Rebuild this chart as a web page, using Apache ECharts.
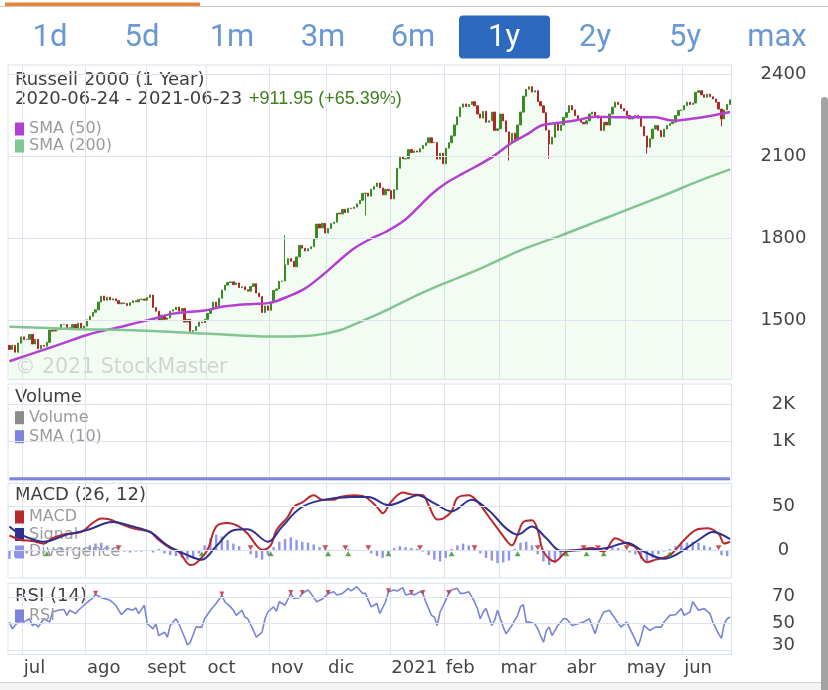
<!DOCTYPE html>
<html><head><meta charset="utf-8">
<script src="https://cdn.jsdelivr.net/npm/echarts@6/dist/echarts.min.js"></script>
<style>html,body{margin:0;padding:0;background:#fff;overflow:hidden}#c{width:828px;height:690px}</style>
</head><body><div id="c"></div>
<script>
// ---------- data ----------
const closes = [
1395,1410,1385,1418,1441,
1431,1432,1450,1415,1432,1398,1410,1407,1421,1466,1462,1467,1467,1486,1486,1472,1475,1486,1471,1491,1470,1480,
1503,1516,1531,1540,1568,1590,1575,1586,1576,1580,1573,1562,1565,1563,1556,1566,1573,1569,1577,1579,1575,
1585,1594,1548,1535,1500,1520,1505,1510,1535,1540,1550,1535,1545,1495,1505,1461,1464,1480,1495,1493,1505,
1527,1540,1568,1550,1582,1612,1630,1640,1642,1632,1638,1621,1624,1613,1608,1625,1635,1601,1588,1530,1554,1538,
1567,1611,1616,1644,1645,1705,1727,1717,1697,1733,1775,1765,1755,1763,1770,1799,1853,1839,1856,1820,
1837,1855,1860,1893,1890,1907,1895,1911,1910,1915,1927,1940,1965,1966,1955,1980,1990,2003,1985,1960,1980,1975,
1945,1979,2057,2097,2091,2092,2125,2114,2120,2116,2128,2140,2150,2168,2150,2151,2090,2112,2073,
2130,2150,2175,2215,2245,2280,2292,2282,2290,2300,2285,2255,2240,2265,2225,2230,2262,2195,2201,
2255,2230,2190,2152,2185,2160,2215,2262,2320,2345,2355,2335,2340,2300,2285,2260,2196,2145,2170,2221,2195,2215,2243,
2260,2286,2270,2249,2235,2225,2219,2230,2255,2262,2249,2240,2195,2225,2215,2255,2280,2298,2290,2275,2266,
2250,2237,2245,2250,2240,2210,2175,2134,2165,2200,2213,2195,2172,2200,2213,2220,2225,2250,2268,2270,
2286,2298,2290,2295,2334,2340,2325,2316,2328,2318,2310,2298,2273,2237,2270,2290,2307
];
const firstOpen = 1410;
// [tradingDayIndex, low, high] for candles with visible wicks
const wicks = [[96,null,1812],[124,1885,null],[174,2085,null],[188,2092,null],[222,2110,null],[248,2210,null]];

const sma50 = [[0,1352],[10,1387],[16,1408],[22,1430],[27,1448],[33,1464],[39,1478],[45,1494],[51,1509],[56,1524],[62,1532],[68,1537],[74,1551],[80,1558],[85,1561],[91,1566],[97,1588],[103,1618],[109,1666],[115,1721],[120,1764],[126,1800],[131,1824],[137,1862],[142,1910],[147,1962],[152,2002],[158,2038],[164,2072],[169,2104],[175,2150],[181,2185],[185,2212],[190,2221],[197,2231],[204,2245],[214,2243],[225,2243],[231,2231],[237,2237],[244,2248],[251,2262]];
const sma200 = [[0,1478],[22,1470],[45,1464],[68,1453],[91,1442],[103,1444],[109,1451],[115,1465],[120,1486],[126,1513],[131,1537],[143,1598],[153,1643],[164,1690],[178,1757],[192,1811],[206,1868],[228,1958],[240,2010],[251,2053]];

const volumeSma10 = [[0,0],[251,0]];

const macd = [[0,17],[4,12],[8,11],[12,8],[15,14],[20,19],[25,21],[29,31],[32,36],[35,35],[38,31],[43,25],[49,21],[52,12],[56,3],[59,-1],[63,-16],[65,-14],[69,1],[72,27],[76,31],[80,27],[83,19],[86,6],[88,1],[91,6],[93,23],[97,38],[99,49],[102,54],[106,62],[109,57],[113,57],[115,60],[120,62],[124,60],[128,49],[130,42],[133,55],[137,65],[140,63],[144,62],[146,51],[149,35],[151,36],[154,44],[156,59],[160,62],[163,55],[167,38],[170,25],[173,12],[175,6],[177,18],[179,32],[182,34],[184,23],[186,-1],[190,-12],[194,-1],[198,1],[203,3],[207,-1],[211,14],[215,8],[218,4],[222,-13],[225,-10],[230,-5],[235,12],[239,23],[243,25],[247,19],[249,8],[251,10]];
const signal = [[0,27],[4,18],[12,10],[20,18],[27,23],[36,32],[43,27],[49,21],[55,6],[62,-5],[67,-10],[72,5],[78,23],[83,24],[90,10],[95,27],[101,47],[108,56],[119,60],[125,60],[132,51],[140,60],[142,62],[148,53],[154,44],[161,57],[167,45],[173,25],[177,18],[182,27],[187,14],[192,0],[201,1],[208,3],[215,9],[221,-1],[228,-9],[233,-3],[240,12],[245,21],[251,13]];
// one value every 2 trading days, starting at index 0
const divergence = [
-9,-7,-5,-3,-1,-1,-2,1,2,3,
2,2,1,3,6,8,9,6,3,1,
-1,-2,-1,-1,0,-2,2,-3,-5,-6,
-8,-10,-7,-3,6,14,18,16,12,8,
5,1,-4,-8,-10,-5,4,10,13,15,
12,10,9,7,4,2,1,0,1,2,
1,1,0,-3,-6,-8,-3,3,5,4,
3,2,-1,-5,-10,-12,-8,2,6,8,
6,2,-3,-8,-11,-14,-13,-11,2,9,
10,6,-4,-12,-16,-14,-8,-2,0,0,
1,1,0,-1,2,4,3,1,-2,-4,
-9,-12,-8,-4,-1,2,5,7,9,10,
9,6,4,1,-5,-6
];
const macdCrossDown = [38,84,110,117,125,143,162,184,200,205,215,247];
const macdCrossUp = [13,67,91,111,118,132,154,177,194,201,207,230];

const rsi = [[0,51.2],[1,46.2],[3,51.2],[4,53.7],[5,51.2],[7,53.7],[8,48.7],[9,50],[10,47.5],[12,53.7],[14,51.2],[15,58.7],[17,60],[19,60.5],[20,56.2],[21,60],[23,57.5],[24,60],[26,63.7],[28,67.5],[29,68.8],[30,71.8],[32,69.3],[33,68.8],[35,67.5],[37,63.7],[39,56.7],[41,61.2],[43,60],[44,61.7],[45,57.5],[47,63.7],[48,50],[50,46.2],[51,50],[52,41.2],[54,43.7],[55,40],[56,48.7],[58,53.7],[59,50],[61,40],[62,34.2],[63,36.2],[65,47.5],[67,47.5],[68,53.7],[70,60],[72,65],[74,71.3],[75,66.3],[77,62.5],[78,60],[79,56.2],[81,60],[82,55],[83,53.7],[85,45],[86,40],[88,43.7],[89,53.7],[90,58.7],[92,62.5],[93,59.2],[94,66.3],[96,63.7],[98,72.5],[99,68.8],[101,69.3],[102,72.5],[104,75],[105,72.5],[107,66.3],[109,68.3],[111,72.5],[113,73.8],[114,71.3],[116,72.5],[118,76.3],[119,74.3],[121,77.5],[123,72.5],[124,72.5],[126,62.5],[128,65],[129,57.5],[131,66.3],[132,73.8],[134,75],[135,74.3],[137,76.8],[138,71.3],[140,72.5],[141,71.3],[143,73.8],[144,72.5],[145,66.3],[147,56.2],[148,55],[149,48.7],[150,58.7],[152,67.5],[153,72.5],[154,75],[156,76.3],[157,72.5],[158,72.5],[160,73.8],[162,66.3],[163,61.2],[164,53.7],[165,58.7],[166,61.2],[168,48.7],[169,52.5],[170,60],[172,47.5],[173,42.5],[175,48.7],[177,56.2],[178,62.5],[179,64.2],[180,51.2],[181,51.2],[183,50],[184,46.2],[186,36.2],[187,45],[188,47.5],[189,41.2],[191,48.7],[193,53.7],[194,53.7],[196,48.7],[198,50],[200,51.2],[202,53.7],[204,42.5],[205,50],[207,58.7],[209,60],[211,53.7],[213,47.5],[215,51.2],[217,42.5],[219,33.2],[220,40],[221,48.7],[223,45],[225,47.5],[227,47.5],[228,51.2],[230,56.2],[232,56.7],[234,61.2],[235,56.2],[237,58.7],[238,66.3],[240,60],[242,61.2],[244,57.5],[245,51.2],[247,42.5],[248,39.2],[249,50],[250,53.7],[251,55]];
const rsiPeaks = [[30,71.8],[74,71.3],[98,72.5],[102,72.5],[111,72.5],[132,73.8],[140,72.5],[144,72.5],[153,72.5]];

const priceTicks = [1500,1800,2100,2400];
const volumeTicks = [1000,2000];
const macdTicks = [0,50];
const rsiTicks = [30,50,70];
const monthNames = ['ene','feb','mar','abr','may','jun','jul','ago','sept','oct','nov','dic'];
const holidays = ['2020-07-03','2020-09-07','2020-11-26','2020-12-25','2021-01-01','2021-01-18','2021-02-15','2021-04-02','2021-05-31'];
const tabs = ['1d','5d','1m','3m','6m','1y','2y','5y','max'];
const selectedTab = '1y';

// ---------- build ----------
const dates = [];
{
  let t = Date.UTC(2020,5,24); const end = Date.UTC(2021,5,23);
  while (t <= end) {
    const d = new Date(t); const wd = d.getUTCDay(); const s = d.toISOString().slice(0,10);
    if (wd !== 0 && wd !== 6 && !holidays.includes(s)) dates.push(s);
    t += 86400000;
  }
}
const monthStart = new Set();
for (let i = 1; i < dates.length; i++) if (dates[i].slice(5,7) !== dates[i-1].slice(5,7)) monthStart.add(i);
const monthLabel = s => { const m = +s.slice(5,7) - 1; return m === 0 ? s.slice(0,4) : monthNames[m]; };

const wickMap = {}; wicks.forEach(w => wickMap[w[0]] = w);
const candles = closes.map((c, i) => {
  const o = i ? closes[i-1] : firstOpen;
  let lo = Math.min(o, c), hi = Math.max(o, c);
  const w = wickMap[i];
  if (w) { if (w[1] != null) lo = w[1]; if (w[2] != null) hi = w[2]; }
  return [o, c, lo, hi];
});
const divData = divergence.map((v, k) => [2*k, v]);

const FONT = 'DejaVu Sans';
const GRID_COLOR = '#dde4ee';
const gridLines = vals => ({
  silent: true, symbol: 'none', animation: false,
  label: {show: false}, emphasis: {disabled: true},
  lineStyle: {color: GRID_COLOR, width: 1, type: 'solid'},
  data: vals.map(v => ({yAxis: v}))
});

const L = 8, W = 723.5;
const grids = [
  {left: L, top: 65, width: W, height: 314.3},
  {left: L, top: 384, width: W, height: 96},
  {left: L, top: 483.3, width: W, height: 94.7},
  {left: L, top: 583.3, width: W, height: 71}
].map(g => Object.assign(g, {show: true, borderColor: '#d9e1eb', borderWidth: 1, backgroundColor: 'transparent', containLabel: false, outerBoundsMode: 'none'}));

const xAxes = grids.map((g, gi) => ({
  type: 'category', gridIndex: gi, data: dates, boundaryGap: true,
  axisLine: {show: false}, axisTick: {show: false},
  axisPointer: {show: false},
  axisLabel: gi === 3 ? {
    show: true, interval: (i) => monthStart.has(i), formatter: v => monthLabel(v),
    align: 'left', margin: 5, fontSize: 18, fontFamily: FONT, color: '#444'
  } : {show: false},
  splitLine: {show: true, interval: (i) => monthStart.has(i), lineStyle: {color: GRID_COLOR, width: 1}}
}));

const yBase = (gi, min, max, ticks, fmt, rich) => ({
  type: 'value', gridIndex: gi, position: 'right', min, max, scale: true,
  axisLine: {show: false}, axisTick: {show: false}, splitLine: {show: false},
  axisLabel: {show: true, customValues: ticks, margin: 52, align: 'center', fontSize: 18, fontFamily: FONT, color: '#444', formatter: fmt, rich: rich || {}}
});
const yAxes = [
  yBase(0, 1286, 2434, priceTicks, v => String(v)),
  yBase(1, -35, 2536, volumeTicks, v => (v/1000) + 'K'),
  yBase(2, -30.5, 75.4, macdTicks, v => String(v)),
  yBase(3, 27.3, 80, rsiTicks, v => v === 30 ? '{up|30}' : String(v), {up: {fontSize: 18, fontFamily: FONT, color: '#444', padding: [0,0,10,0]}})
];

const legendBase = (names, top, gap) => ({
  data: names, left: 15, top, orient: 'vertical', padding: 0, itemGap: gap,
  icon: 'rect', itemWidth: 9, itemHeight: 13, selectedMode: false,
  textStyle: {fontSize: 16, fontFamily: FONT, color: '#9b9b9b', lineHeight: 16}
});

const txt = (text, x, y, size, fill, family, extra) => Object.assign({
  type: 'text', x, y, silent: true,
  style: {text, fontSize: size, fontFamily: family || FONT, fill, align: 'left', verticalAlign: 'middle'}
}, extra || {});

const tabX = [50,142,232,323,413,504,595,685,777];
const graphics = [
  {type: 'rect', shape: {x: 5, y: 2.5, width: 195, height: 3.5}, style: {fill: '#e8843a'}, silent: true},
  {type: 'line', shape: {x1: 0, y1: 6.5, x2: 828, y2: 6.5}, style: {stroke: '#c9c9c9', lineWidth: 1}, silent: true},
  {type: 'rect', shape: {x: 459, y: 15.5, width: 91, height: 43, r: 4}, style: {fill: '#2d6abf'}, silent: true},
  ...tabs.map((t, k) => ({type: 'text', x: tabX[k], y: 38, silent: true,
    style: {text: t, fontSize: 31, fontFamily: 'Roboto', fill: t === selectedTab ? '#ffffff' : '#6a98d3', align: 'center', verticalAlign: 'middle'}})),
  txt('Russell 2000 (1 Year)', 15, 80, 18, '#3f3f3f'),
  txt('2020-06-24 - 2021-06-23', 15, 99.5, 18, '#3f3f3f'),
  txt('+911.95 (+65.39%)', 249, 99.5, 18, '#3d7f1f', 'Liberation Sans'),
  txt('© 2021 StockMaster', 15, 368, 20.5, 'rgba(0,0,0,0.16)'),
  txt('Volume', 15, 397, 18, '#3f3f3f'),
  txt('MACD (26, 12)', 15, 495.5, 18, '#3f3f3f'),
  txt('RSI (14)', 15, 596, 18, '#3f3f3f'),
  {type: 'line', shape: {x1: 0, y1: 682.5, x2: 828, y2: 682.5}, style: {stroke: '#cfcfcf', lineWidth: 1}, silent: true},
  {type: 'rect', shape: {x: 0, y: 683, width: 828, height: 7}, style: {fill: '#f4f4f4'}, silent: true},
  {type: 'rect', shape: {x: 821, y: 97, width: 7, height: 593, r: [3.5,3.5,0,0]}, style: {fill: '#a3a3a3'}, silent: true}
];

const option = {
  animation: false,
  backgroundColor: '#ffffff',
  grid: grids,
  xAxis: xAxes,
  yAxis: yAxes,
  legend: [
    legendBase(['SMA (50)','SMA (200)'], 121, 1),
    legendBase(['Volume','SMA (10)'], 409.7, 3),
    legendBase(['MACD','Signal','Divergence'], 509, 1.5),
    legendBase(['RSI'], 608, 2)
  ],
  graphic: {elements: graphics},
  series: [
    {name: 'price-area', type: 'line', xAxisIndex: 0, yAxisIndex: 0, data: closes, symbol: 'none', silent: true, z: 1,
     lineStyle: {width: 0, opacity: 0}, areaStyle: {color: 'rgba(120,220,100,0.12)', origin: 'start'},
     markLine: gridLines(priceTicks)},
    {name: 'Russell 2000', type: 'candlestick', xAxisIndex: 0, yAxisIndex: 0, data: candles, silent: true, z: 3,
     barWidth: 1.8,
     itemStyle: {color: '#3b8b24', color0: '#b3242b', borderColor: '#3b8b24', borderColor0: '#b3242b', borderWidth: 1}},
    {name: 'SMA (50)', type: 'line', xAxisIndex: 0, yAxisIndex: 0, data: sma50, symbol: 'none', smooth: 0.35, silent: true, z: 4,
     color: '#b33fd3', lineStyle: {color: '#b33fd3', width: 2.5}},
    {name: 'SMA (200)', type: 'line', xAxisIndex: 0, yAxisIndex: 0, data: sma200, symbol: 'none', smooth: 0.35, silent: true, z: 4,
     color: '#80c592', lineStyle: {color: '#80c592', width: 2.5}},

    {name: 'Volume', type: 'bar', xAxisIndex: 1, yAxisIndex: 1, data: [], color: '#8c8c8c', silent: true},
    {name: 'SMA (10)', type: 'line', xAxisIndex: 1, yAxisIndex: 1, data: volumeSma10, symbol: 'none', silent: true, z: 3,
     color: '#7c84df', lineStyle: {color: '#7c84df', width: 3}, markLine: gridLines(volumeTicks)},

    {name: 'Divergence', type: 'bar', xAxisIndex: 2, yAxisIndex: 2, data: divData, barWidth: 2.4, silent: true, z: 2,
     color: '#8e94e8', itemStyle: {color: '#8e94e8'}, markLine: gridLines(macdTicks)},
    {name: 'MACD', type: 'line', xAxisIndex: 2, yAxisIndex: 2, data: macd, symbol: 'none', smooth: 0.35, silent: true, z: 4,
     color: '#b8282e', lineStyle: {color: '#b8282e', width: 2}},
    {name: 'Signal', type: 'line', xAxisIndex: 2, yAxisIndex: 2, data: signal, symbol: 'none', smooth: 0.35, silent: true, z: 4,
     color: '#2c308f', lineStyle: {color: '#2c308f', width: 2}},
    {name: 'cross-down', type: 'scatter', xAxisIndex: 2, yAxisIndex: 2, data: macdCrossDown.map(i => [i, 0]), silent: true, z: 5,
     symbol: 'triangle', symbolRotate: 180, symbolSize: [6,5], symbolOffset: [0,-3], itemStyle: {color: '#c0262c'}},
    {name: 'cross-up', type: 'scatter', xAxisIndex: 2, yAxisIndex: 2, data: macdCrossUp.map(i => [i, 0]), silent: true, z: 5,
     symbol: 'triangle', symbolSize: [6,5], symbolOffset: [0,3], itemStyle: {color: '#3b8b24'}},

    {name: 'RSI', type: 'line', xAxisIndex: 3, yAxisIndex: 3, data: rsi, symbol: 'none', silent: true, z: 3,
     color: '#7b82dc', lineStyle: {color: '#7b82dc', width: 1.6}, markLine: gridLines(rsiTicks)},
    {name: 'rsi-peak', type: 'scatter', xAxisIndex: 3, yAxisIndex: 3, data: rsiPeaks, silent: true, z: 5,
     symbol: 'triangle', symbolRotate: 180, symbolSize: [5,5], symbolOffset: [0,-1], itemStyle: {color: '#c0262c'}}
  ]
};

const chart = echarts.init(document.getElementById('c'), null, {renderer: 'canvas', width: 828, height: 690});
chart.setOption(option);
</script>
</body></html>
